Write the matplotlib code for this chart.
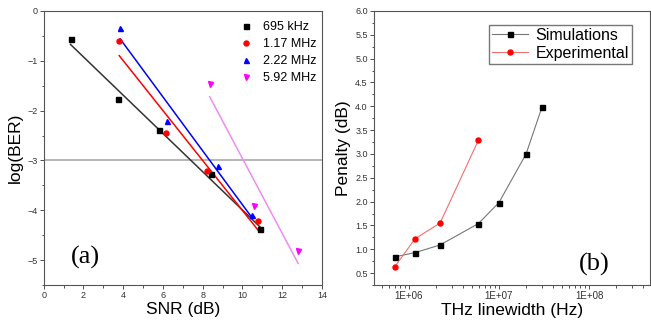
import matplotlib.pyplot as plt
import numpy as np
from matplotlib.ticker import MultipleLocator, LogLocator, FixedLocator

# panel (a): SNR vs log(BER) for four linewidths
snr_695 = [1.35, 3.75, 5.8, 8.4, 10.9]
ber_695 = [-0.57, -1.77, -2.38, -3.27, -4.38]
snr_117 = [3.8, 6.15, 8.2, 10.8]
ber_117 = [-0.61, -2.44, -3.22, -4.21]
snr_222 = [3.85, 6.2, 8.75, 10.5]
ber_222 = [-0.35, -2.2, -3.12, -4.1]
snr_592 = [8.35, 10.6, 12.8]
ber_592 = [-1.47, -3.92, -4.81]

# panel (b): penalty vs THz linewidth
lw_sim = [6.95e5, 1.17e6, 2.22e6, 5.92e6, 1e7, 2e7, 3e7]
pen_sim = [0.84, 0.93, 1.09, 1.54, 1.98, 3.0, 3.98]
lw_exp = [6.95e5, 1.17e6, 2.22e6, 5.92e6]
pen_exp = [0.63, 1.22, 1.55, 3.29]

plt.rcParams['font.family'] = ['Liberation Sans', 'DejaVu Sans']

fig = plt.figure(figsize=(6.51, 3.22), dpi=100)
W, H = 651, 322
ax1 = fig.add_axes([43.7 / W, 1 - 285 / H, (322 - 43.7) / W, (285 - 11) / H])
ax2 = fig.add_axes([374 / W, 1 - 285 / H, (650 - 374) / W, (285 - 11) / H])

ax1.axhline(-3, color='#aaaaaa', lw=1.2, zorder=1)

series = [
    (snr_695, ber_695, 's', 'black', '#333333', '695 kHz'),
    (snr_117, ber_117, 'o', 'red', 'red', '1.17 MHz'),
    (snr_222, ber_222, '^', 'blue', 'blue', '2.22 MHz'),
    (snr_592, ber_592, 'v', 'magenta', '#f08cf0', '5.92 MHz'),
]
for x, y, m, c, lc, lab in series:
    ax1.plot(x, y, m, color=c, ms=3.6, ls='none', label=lab, zorder=3)
    # linear fit like the original
    p = np.polyfit(x, y, 1)
    xs = np.array([x[0], x[-1]])
    ax1.plot(xs, np.polyval(p, xs), color=lc, lw=1.1, zorder=2)

ax1.set_xlim(0, 14)
ax1.set_ylim(-5.5, 0)
ax1.xaxis.set_major_locator(MultipleLocator(2))
ax1.xaxis.set_minor_locator(MultipleLocator(1))
ax1.yaxis.set_major_locator(MultipleLocator(1))
ax1.yaxis.set_minor_locator(MultipleLocator(0.5))
ax1.set_xlabel('SNR (dB)', fontsize=12.5, labelpad=1)
ax1.set_ylabel('log(BER)', fontsize=12.5, labelpad=3)
ax1.text(2.08, -4.95, '(a)', family='Liberation Serif', fontsize=19, va='center', ha='center')
ax1.legend(loc='upper right', frameon=False, fontsize=9, handletextpad=0.9,
           labelspacing=0.4, handlelength=1.0, borderaxespad=0.3,
           bbox_to_anchor=(1.012, 0.995))

ax2.plot(lw_sim, pen_sim, '-s', color='#777777', mfc='black', mec='black', ms=3.6, lw=0.8,
         label='Simulations')
ax2.plot(lw_exp, pen_exp, '-o', color='#f07070', mfc='red', mec='red', ms=3.6, lw=0.8,
         label='Experimental')
ax2.set_xscale('log')
ax2.set_xlim(4.1e5, 4.75e8)
ax2.set_ylim(0.25, 6.0)
ax2.xaxis.set_major_locator(FixedLocator([1e6, 1e7, 1e8]))
ax2.xaxis.set_minor_locator(LogLocator(base=10, subs=np.arange(2, 10)))
ax2.set_xticklabels(['1E+06', '1E+07', '1E+08'])
ax2.yaxis.set_major_locator(MultipleLocator(0.5))
ax2.yaxis.set_minor_locator(MultipleLocator(0.25))
ax2.yaxis.set_major_formatter(plt.FormatStrFormatter('%.1f'))
ax2.set_xlabel('THz linewidth (Hz)', fontsize=12.5, labelpad=1)
ax2.set_ylabel('Penalty (dB)', fontsize=12.5, labelpad=3)
ax2.text(1.15e8, 0.68, '(b)', family='Liberation Serif', fontsize=19, va='center', ha='center')
ax2.legend(loc='upper right', bbox_to_anchor=(0.935, 0.95), fontsize=11.5, fancybox=False,
           edgecolor='#555555', handlelength=2.2, borderpad=0.2, labelspacing=0.2,
           handletextpad=0.5, borderaxespad=0)

for ax in (ax1, ax2):
    ax.tick_params(which='both', direction='out', labelsize=6.5, pad=1.5, width=0.6,
                   colors='#333333')
    ax.tick_params(which='major', length=3)
    ax.tick_params(which='minor', length=1.8)
    for s in ax.spines.values():
        s.set_linewidth(0.8)
        s.set_color('#555555')
ax2.tick_params(axis='x', labelsize=7)

fig.savefig('out.png', dpi=100)
